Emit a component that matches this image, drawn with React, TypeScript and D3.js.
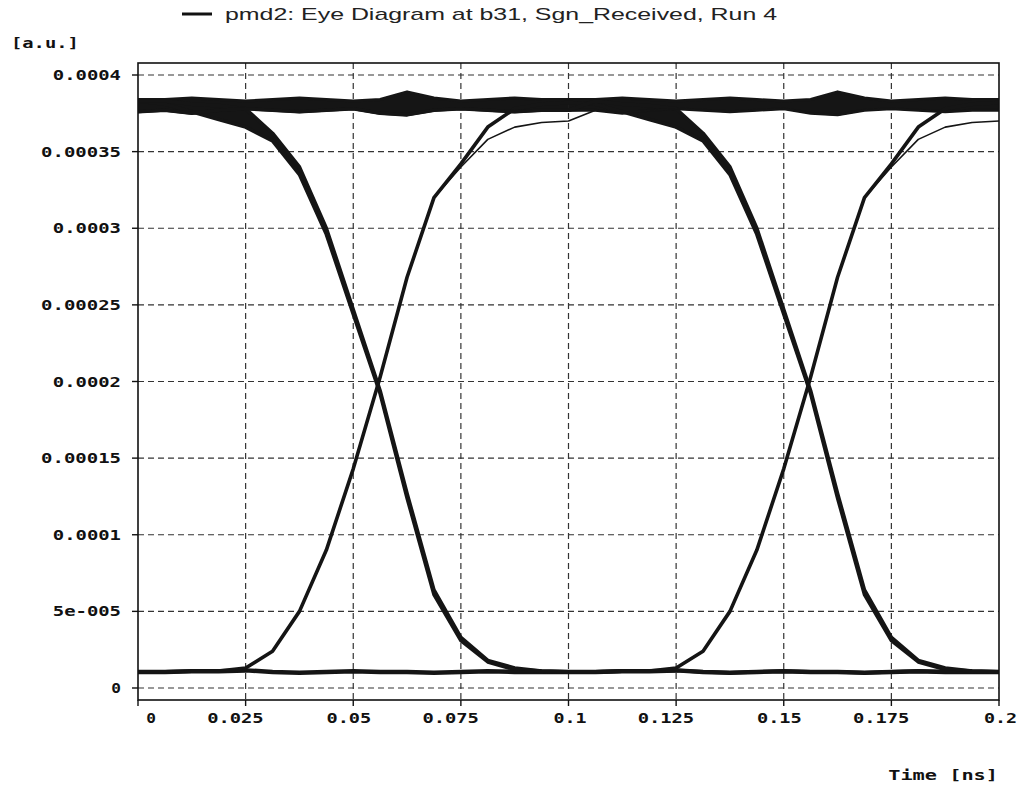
import React from 'react';
import * as d3 from 'd3';

// ---- data ----
const timeNs = [
  0, 0.00625, 0.0125, 0.01875, 0.025, 0.03125, 0.0375, 0.04375, 0.05, 0.05625, 0.0625,
  0.06875, 0.075, 0.08125, 0.0875, 0.09375, 0.1, 0.10625, 0.1125, 0.11875, 0.125, 0.13125,
  0.1375, 0.14375, 0.15, 0.15625, 0.1625, 0.16875, 0.175, 0.18125, 0.1875, 0.19375, 0.2,
];

// one bit period (0 .. 0.1 ns, 17 samples) for each waveform shape
const highA = [0.000384, 0.000384, 0.000385, 0.000384, 0.000383, 0.000384, 0.000385, 0.000384, 0.000383, 0.000384, 0.000389, 0.000385, 0.000383, 0.000384, 0.000385, 0.000384, 0.000384];
const highB = [0.000376, 0.000377, 0.000375, 0.000377, 0.000378, 0.000377, 0.000376, 0.000377, 0.000378, 0.000375, 0.000374, 0.000377, 0.000378, 0.000377, 0.000376, 0.000377, 0.000377];
const lowA = [0.0000105, 0.0000105, 0.000011, 0.000011, 0.0000115, 0.0000105, 0.00001, 0.0000105, 0.000011, 0.0000105, 0.0000105, 0.00001, 0.0000105, 0.000011, 0.0000105, 0.0000105, 0.0000105];
const fallA = [0.000383, 0.000381, 0.000376, 0.000371, 0.000366, 0.000357, 0.000335, 0.000296, 0.000244, 0.000192, 0.000124, 0.000061, 0.000031, 0.000017, 0.000012, 0.000011, 0.0000105];
const fallB = [0.000383, 0.000383, 0.000381, 0.00038, 0.000378, 0.000362, 0.00034, 0.0003, 0.000247, 0.000194, 0.000127, 0.000064, 0.000033, 0.000018, 0.000013, 0.000011, 0.0000105];
const riseA = [0.0000105, 0.0000105, 0.000011, 0.000011, 0.000013, 0.000024, 0.00005, 0.00009, 0.000143, 0.000203, 0.000268, 0.00032, 0.000342, 0.000366, 0.000378, 0.000381, 0.000382];
const riseB = [0.0000105, 0.0000105, 0.000011, 0.000011, 0.000013, 0.000024, 0.00005, 0.00009, 0.000143, 0.000203, 0.000268, 0.00032, 0.00034, 0.000358, 0.000366, 0.000369, 0.00037];

const shapes: Record<string, number[]> = { highA, highB, lowA, fallA, fallB, riseA, riseB };

// traces: shape in first bit period, shape in second bit period
const tracePatterns: [string, string][] = [
  ['highA', 'highA'],
  ['highB', 'highB'],
  ['lowA', 'lowA'],
  ['fallA', 'riseA'],
  ['riseA', 'fallA'],
  ['fallB', 'lowA'],
  ['highB', 'fallB'],
  ['riseB', 'highB'],
  ['lowA', 'riseB'],
];
// dense bundles of traces (upper shape, lower shape), drawn in each bit period
const bundles: [string, string][] = [
  ['highA', 'highB'],
  ['fallB', 'fallA'],
];
const periodStarts = [0, 16]; // sample index where each bit period begins

const xTicks = [0, 0.025, 0.05, 0.075, 0.1, 0.125, 0.15, 0.175, 0.2];
const xTickLabels = ['0', '0.025', '0.05', '0.075', '0.1', '0.125', '0.15', '0.175', '0.2'];
const yTicks = [0, 0.00005, 0.0001, 0.00015, 0.0002, 0.00025, 0.0003, 0.00035, 0.0004];
const yTickLabels = ['0', '5e-005', '0.0001', '0.00015', '0.0002', '0.00025', '0.0003', '0.00035', '0.0004'];

const titleText = 'pmd2: Eye Diagram at b31, Sgn_Received, Run 4';
const yAxisTitle = '[a.u.]';
const xAxisTitle = 'Time [ns]';

// ---- layout ----
const W = 1023;
const H = 790;
const left = 138;
const right = 999;
const top = 63;
const bottom = 700;
const traceWidths = [3, 3, 4.5, 3.6, 3.6, 3.6, 3.6, 1.6, 1.6];

const x = d3.scaleLinear().domain([0, 0.2]).range([left, right]);
const y = d3.scaleLinear().domain([0, 0.0004]).range([688, 75]);

const mono = '"DejaVu Sans Mono", "Liberation Mono", monospace';
const charW = 11.7;
const ink = '#151515';

export default function App() {
  const line = d3
    .line<number>()
    .x((_, i) => x(timeNs[i]))
    .y((d) => y(d))
    .curve(d3.curveLinear);

  const traces = tracePatterns.map(([a, b], k) => ({
    d: line(shapes[a].concat(shapes[b].slice(1))) || '',
    w: traceWidths[k],
  }));

  const bundlePaths: string[] = [];
  bundles.forEach(([up, lo]) => {
    periodStarts.forEach((s) => {
      const area = d3
        .area<number>()
        .x((_, i) => x(timeNs[s + i]))
        .y0((_, i) => y(shapes[lo][i]))
        .y1((_, i) => y(shapes[up][i]))
        .curve(d3.curveLinear);
      bundlePaths.push(area(shapes[up]) || '');
    });
  });

  return (
    <svg
      width={W}
      height={H}
      style={{ position: 'absolute', left: 0, top: 0, display: 'block', background: '#fff' }}
    >
      {/* title / legend */}
      <line x1={182} x2={212} y1={14} y2={14} stroke="#111" strokeWidth={3} />
      <text
        x={225}
        y={20}
        fontFamily='"Liberation Sans", Arial, sans-serif'
        fontSize={17}
        fill="#222"
        textLength={552}
        lengthAdjust="spacingAndGlyphs"
      >
        {titleText}
      </text>

      {/* y axis title */}
      <text
        x={11}
        y={48}
        fontFamily={mono}
        fontSize={14}
        fontWeight="bold"
        fill="#111"
        textLength={yAxisTitle.length * 11.3}
        lengthAdjust="spacingAndGlyphs"
      >
        {yAxisTitle}
      </text>

      {/* grid */}
      {yTicks.map((t) => (
        <line
          key={'gy' + t}
          x1={left}
          x2={right}
          y1={y(t)}
          y2={y(t)}
          stroke="#333"
          strokeWidth={1.2}
          strokeDasharray="6,4"
        />
      ))}
      {xTicks
        .filter((t) => t > 0 && t < 0.2)
        .map((t) => (
          <line
            key={'gx' + t}
            x1={x(t)}
            x2={x(t)}
            y1={top}
            y2={bottom}
            stroke="#333"
            strokeWidth={1.2}
            strokeDasharray="6,4"
          />
        ))}

      <defs>
        <clipPath id="plotclip">
          <rect x={left} y={top} width={right - left} height={bottom - top} />
        </clipPath>
      </defs>

      {/* traces */}
      <g clipPath="url(#plotclip)">
        {bundlePaths.map((d, i) => (
          <path key={'b' + i} d={d} fill={ink} stroke="none" />
        ))}
        {traces.map((tr, i) => (
          <path
            key={i}
            d={tr.d}
            fill="none"
            stroke={ink}
            strokeWidth={tr.w}
            strokeLinejoin="round"
          />
        ))}
      </g>

      {/* frame */}
      <rect
        x={left}
        y={top}
        width={right - left}
        height={bottom - top}
        fill="none"
        stroke="#111"
        strokeWidth={1.6}
      />

      {/* y ticks */}
      {yTicks.map((t, i) => (
        <g key={'yt' + t}>
          <line x1={left - 6} x2={left} y1={y(t)} y2={y(t)} stroke="#111" strokeWidth={1.4} />
          <text
            x={121}
            y={y(t)}
            dy="0.36em"
            textAnchor="end"
            fontFamily={mono}
            fontSize={14}
            fontWeight="bold"
            fill="#111"
            textLength={yTickLabels[i].length * charW - 2}
            lengthAdjust="spacingAndGlyphs"
          >
            {yTickLabels[i]}
          </text>
        </g>
      ))}

      {/* x ticks */}
      {xTicks.map((t, i) => (
        <g key={'xt' + t}>
          <line x1={x(t)} x2={x(t)} y1={bottom} y2={bottom + 6} stroke="#111" strokeWidth={1.4} />
          <text
            x={x(t) + 18}
            y={718}
            dy="0.36em"
            textAnchor="end"
            fontFamily={mono}
            fontSize={14}
            fontWeight="bold"
            fill="#111"
            textLength={xTickLabels[i].length * charW - 2}
            lengthAdjust="spacingAndGlyphs"
          >
            {xTickLabels[i]}
          </text>
        </g>
      ))}

      {/* x axis title */}
      <text
        x={998}
        y={775}
        dy="0.36em"
        textAnchor="end"
        fontFamily={mono}
        fontSize={14}
        fontWeight="bold"
        fill="#111"
        textLength={xAxisTitle.length * 12.2}
        lengthAdjust="spacingAndGlyphs"
      >
        {xAxisTitle}
      </text>
    </svg>
  );
}
